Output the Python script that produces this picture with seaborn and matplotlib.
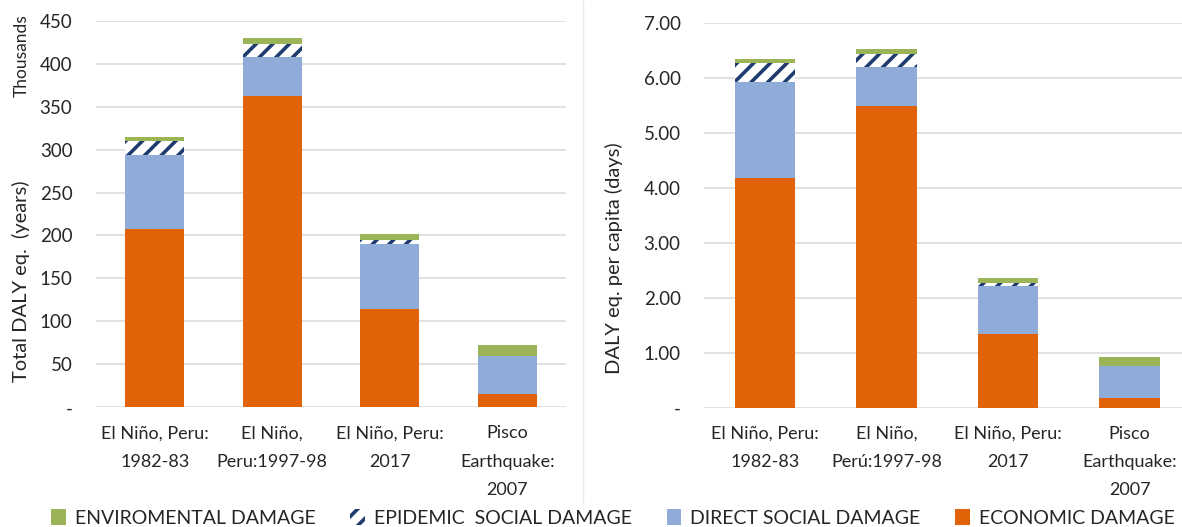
import numpy as np
import pandas as pd
import matplotlib
matplotlib.use("Agg")
import matplotlib.pyplot as plt
from matplotlib.patches import Patch
from matplotlib.lines import Line2D
from matplotlib.ticker import FuncFormatter
import seaborn as sns

# Event labels for the two panels
events_total = ["El Niño, Peru:\n1982-83", "El Niño,\nPeru:1997-98",
                "El Niño, Peru:\n2017", "Pisco\nEarthquake:\n2007"]
events_capita = ["El Niño, Peru:\n1982-83", "El Niño,\nPerú:1997-98",
                 "El Niño, Peru:\n2017", "Pisco\nEarthquake:\n2007"]

# Total DALY eq. (thousands of years)
economic_total = [207.5, 362.0, 115.0, 15.0]
direct_total = [86.5, 45.5, 74.5, 45.0]
epidemic_total = [16.0, 15.5, 5.5, 0.0]
environmental_total = [4.5, 6.5, 7.0, 12.5]

# DALY eq. per capita (days)
economic_capita = [4.17, 5.49, 1.34, 0.18]
direct_capita = [1.76, 0.70, 0.87, 0.58]
epidemic_capita = [0.33, 0.24, 0.06, 0.0]
environmental_capita = [0.08, 0.10, 0.08, 0.17]

series_names = ["ENVIROMENTAL DAMAGE", "EPIDEMIC  SOCIAL DAMAGE",
                "DIRECT SOCIAL DAMAGE", "ECONOMIC DAMAGE"]

C_ECON = "#E26208"
C_DIRECT = "#8FABD7"
C_EPI = "#1F3C6E"
C_ENV = "#9BB458"
C_GRID = "#D9D9D9"
C_TEXT = "#262626"

sns.set_theme(style="white")
plt.rcParams["font.family"] = ["Lato", "DejaVu Sans"]
plt.rcParams["hatch.linewidth"] = 2.6

fig = plt.figure(figsize=(11.82, 5.27), dpi=100)
W, H = 1182, 527


def px_axes(left, top, right, bottom):
    return fig.add_axes([left / W, 1 - bottom / H, (right - left) / W, (bottom - top) / H])


def stacked(ax, events, econ, direct, epi, env):
    econ = np.asarray(econ)
    direct = np.asarray(direct)
    epi = np.asarray(epi)
    env = np.asarray(env)
    layers = [
        (econ + direct + epi + env, dict(color=C_ENV, linewidth=0)),
        (econ + direct + epi, dict(color="white", hatch="//", edgecolor=C_EPI, linewidth=0)),
        (econ + direct, dict(color=C_DIRECT, linewidth=0)),
        (econ, dict(color=C_ECON, linewidth=0)),
    ]
    for heights, style in layers:
        df = pd.DataFrame({"event": events, "value": heights})
        sns.barplot(data=df, x="event", y="value", order=events, ax=ax,
                    width=0.5, errorbar=None, saturation=1, **style)
    ax.set_xlim(-0.5, len(events) - 0.5)
    ax.set_xlabel("")
    ax.set_ylabel("")
    for s in ax.spines.values():
        s.set_visible(False)
    ax.yaxis.grid(True, color=C_GRID, linewidth=1.1)
    ax.set_axisbelow(True)
    ax.tick_params(axis="both", length=0, colors=C_TEXT)
    ax.tick_params(axis="y", pad=17, labelsize=13.5)
    ax.tick_params(axis="x", pad=13, labelsize=13)
    for lab in ax.get_xticklabels():
        lab.set_linespacing(1.95)
        lab.set_verticalalignment("top")


# Left panel: total DALY
ax1 = px_axes(96, 20.7, 566, 407.3)
stacked(ax1, events_total, economic_total, direct_total, epidemic_total, environmental_total)
ax1.set_ylim(0, 450)
ax1.set_yticks(np.arange(0, 451, 50))
ax1.yaxis.set_major_formatter(FuncFormatter(lambda v, p: "-" if v == 0 else f"{v:.0f}"))

# Right panel: per capita DALY
ax2 = px_axes(704.3, 22.7, 1190.3, 407.7)
stacked(ax2, events_capita, economic_capita, direct_capita, epidemic_capita, environmental_capita)
ax2.set_ylim(0, 7)
ax2.set_yticks(np.arange(0, 7.01, 1))
ax2.yaxis.set_major_formatter(FuncFormatter(lambda v, p: "-" if v == 0 else f"{v:.2f}"))

# Axis titles
fig.text(21 / W, 1 - 281 / H, "Total DALY eq.  (years)", rotation=90,
         ha="center", va="center", fontsize=14.5, color=C_TEXT)
fig.text(22 / W, 1 - 56 / H, "Thousands", rotation=90,
         ha="center", va="center", fontsize=12.5, color=C_TEXT)
fig.text(614 / W, 1 - 258 / H, "DALY eq. per capita (days)", rotation=90,
         ha="center", va="center", fontsize=14.5, color=C_TEXT)

# Thin separator between the two panels
fig.add_artist(Line2D([583 / W, 583 / W], [1.0, 1 - 503 / H],
                      transform=fig.transFigure, color="#EDEDED", linewidth=1.0))

handles = [
    Patch(facecolor=C_ENV, edgecolor="none"),
    Patch(facecolor="white", edgecolor=C_EPI, hatch="//", linewidth=0),
    Patch(facecolor=C_DIRECT, edgecolor="none"),
    Patch(facecolor=C_ECON, edgecolor="none"),
]
fig.legend(handles, series_names, loc="center", bbox_to_anchor=(613 / W, 1 - 518 / H),
           ncol=4, frameon=False, fontsize=14, handlelength=0.75, handleheight=0.85,
           handletextpad=0.45, columnspacing=1.8, labelcolor=C_TEXT)

fig.savefig("out.png", dpi=100)
